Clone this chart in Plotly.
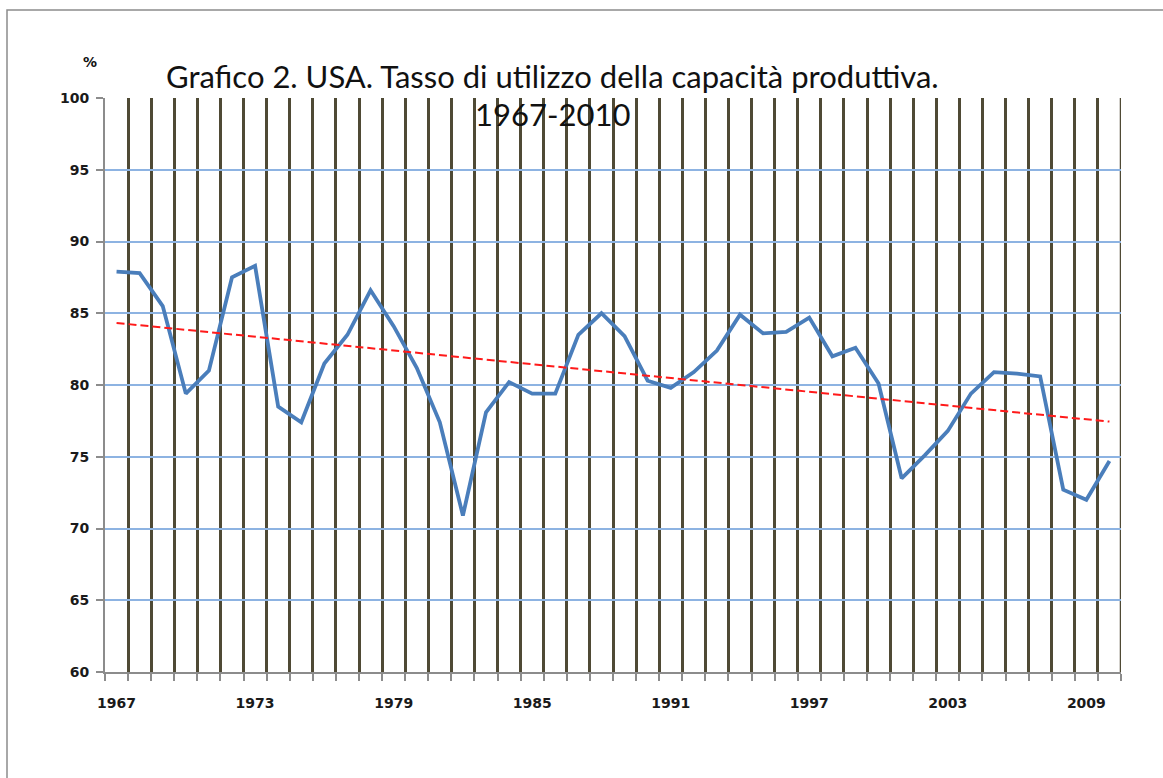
import numpy as np
import plotly.graph_objects as go

years = list(range(1967, 2011))
utilization = [87.9, 87.8, 85.5, 79.4, 81.0, 87.5, 88.3, 78.5, 77.4, 81.5,
               83.5, 86.6, 84.1, 81.2, 77.4, 70.9, 78.1, 80.2, 79.4, 79.4,
               83.5, 85.0, 83.4, 80.3, 79.8, 80.9, 82.4, 84.9, 83.6, 83.7,
               84.7, 82.0, 82.6, 80.1, 73.5, 75.1, 76.8, 79.4, 80.9, 80.8,
               80.6, 72.7, 72.0, 74.7]
label_years = [1967, 1973, 1979, 1985, 1991, 1997, 2003, 2009]
title_line1 = "Grafico 2. USA. Tasso di utilizzo della capacità produttiva."
title_line2 = "1967-2010"
y_unit = "%"

# Linear trend (as Excel's linear trendline) fitted on the series
coef = np.polyfit(years, utilization, 1)
trend = [float(np.polyval(coef, y)) for y in years]

W, H = 1163, 778
L, R, T, B = 105, 1121, 98, 672


def px(xp):
    return (xp - L) / (R - L)


def py(yp):
    return (B - yp) / (B - T)


GRID_DARK = "#4f4a35"
AXIS_GREY = "#8c8c8c"
TICK_FONT = dict(family="DejaVu Sans", size=14, color="#1a1a1a", weight="bold")
TITLE_FONT = dict(family="Lato", size=31, color="#111")

fig = go.Figure()
fig.add_trace(go.Scatter(x=years, y=utilization, mode="lines",
                         line=dict(color="#4a7ebb", width=3.8),
                         showlegend=False, hoverinfo="x+y"))
fig.add_trace(go.Scatter(x=years, y=trend, mode="lines",
                         line=dict(color="#ff1a1a", width=2, dash="8px,4px"),
                         showlegend=False, hoverinfo="skip"))

fig.update_layout(
    width=W, height=H,
    margin=dict(l=L, r=W - R, t=T, b=H - B),
    paper_bgcolor="white", plot_bgcolor="white",
    font=dict(family="DejaVu Sans", size=13, color="#111"),
    xaxis=dict(
        range=[1966.5, 2010.5],
        tickmode="array", tickvals=label_years,
        ticktext=[str(y) for y in label_years],
        ticks="", showgrid=False, zeroline=False,
        showline=True, linecolor=AXIS_GREY, linewidth=2,
        tickfont=TICK_FONT,
        ticklabelstandoff=17,
        minor=dict(tick0=1966.5, dtick=1, ticks="outside", ticklen=7,
                   tickcolor=AXIS_GREY, tickwidth=1.5,
                   showgrid=True, gridcolor=GRID_DARK, gridwidth=2.5),
    ),
    yaxis=dict(
        range=[60, 100], tick0=60, dtick=5,
        ticks="outside", ticklen=7, tickcolor=AXIS_GREY, tickwidth=1.5,
        showgrid=True, gridcolor="#8db3e2", gridwidth=1.5,
        zeroline=False, showline=True, linecolor=AXIS_GREY, linewidth=2,
        tickfont=TICK_FONT,
        ticklabelstandoff=4,
    ),
    shapes=[
        dict(type="rect", xref="paper", yref="paper",
             x0=px(7), x1=px(1175), y0=py(790), y1=py(10),
             line=dict(color=AXIS_GREY, width=1.5), layer="below"),
        dict(type="line", xref="x", yref="paper", x0=2010.5, x1=2010.5,
             y0=0, y1=1, line=dict(color=GRID_DARK, width=2.5), layer="below"),
    ],
    annotations=[
        dict(text=title_line1, xref="paper", yref="paper",
             x=px(552), y=py(76), xanchor="center", yanchor="middle",
             showarrow=False, font=TITLE_FONT),
        dict(text=title_line2, xref="paper", yref="paper",
             x=px(552), y=py(114), xanchor="center", yanchor="middle",
             showarrow=False, font=TITLE_FONT),
        dict(text=y_unit, xref="paper", yref="paper",
             x=px(90), y=py(62), xanchor="center", yanchor="middle",
             showarrow=False, font=dict(family="DejaVu Sans", size=14,
                                        color="#111", weight="bold")),
    ],
)

fig.write_html("out.html", config={"displayModeBar": False},
               post_script="document.body.style.margin='0';")
